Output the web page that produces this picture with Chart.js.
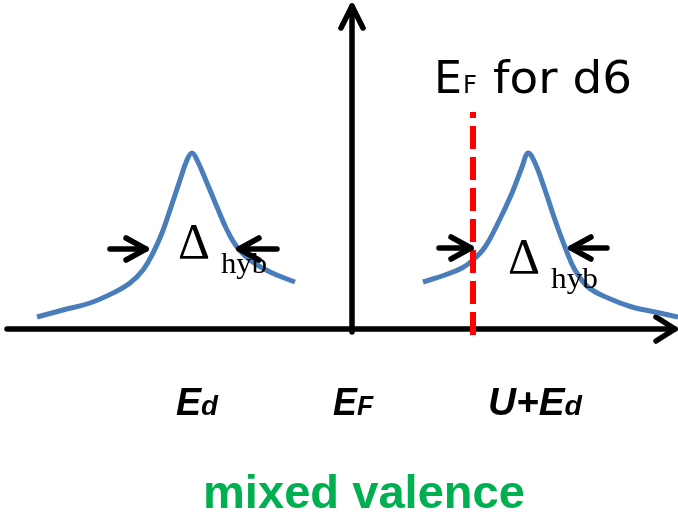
<!DOCTYPE html>
<html>
<head>
<meta charset="utf-8">
<script src="https://cdn.jsdelivr.net/npm/chart.js@4"></script>
<style>
  html, body { margin: 0; padding: 0; background: #fff; }
  #wrap { width: 678px; height: 515px; position: relative; }
</style>
</head>
<body>
<div id="wrap"><canvas id="dos"></canvas></div>
<script>
// energy (E_F = 0) on x, density of states on y, in sketch units
const lowerPeakE   = [-315, -289, -262, -239, -222, -209, -199, -190, -182, -172, -165, -160, -155, -145, -135, -125, -115, -102, -82, -57];
const lowerPeakDos = [  12,   19,   26,   36,   46,   59,   76,   96,  119,  149,  169,  176,  169,  146,  122,   99,   82,   69,  57,  47];
const upperPeakE   = [71, 93, 110, 121, 133, 146, 160, 170, 176, 183, 193, 203, 213, 223, 236, 256, 280, 303, 326];
const upperPeakDos = [47, 54,  61,  69,  82, 106, 136, 162, 176, 166, 139, 109,  82,  59,  42,  31,  22,  17,  12];
const fermiD6E   = [121, 121];
const fermiD6Dos = [-6, 217];
const levelNames = [['E', 'd'], ['E', 'F'], ['U+E', 'd']];
const levelE = [-155, 1, 183];

const toPoints = (xs, ys) => xs.map((x, i) => ({ x: x, y: ys[i] }));

// draw a run of [text, font] pieces, squeezed/stretched to a given width
function drawRun(ctx, pieces, left, baseline, width) {
    let natural = 0;
    pieces.forEach(p => { ctx.font = p[1]; natural += ctx.measureText(p[0]).width; });
    const k = width ? width / natural : 1;
    ctx.save();
    ctx.translate(left, baseline);
    ctx.scale(k, 1);
    let cx = 0;
    pieces.forEach(p => {
        ctx.font = p[1];
        ctx.fillText(p[0], cx, 0);
        cx += ctx.measureText(p[0]).width;
    });
    ctx.restore();
}

function chevron(ctx, tipX, tipY, dx, dy, back, half) {
    // dx,dy = unit direction the arrow points to
    const bx = tipX - dx * back, by = tipY - dy * back;
    ctx.beginPath();
    ctx.moveTo(bx - dy * half, by + dx * half);
    ctx.lineTo(tipX, tipY);
    ctx.lineTo(bx + dy * half, by - dx * half);
    ctx.stroke();
}

const sketchPlugin = {
    id: 'sketch',
    beforeDatasetsDraw(chart) {
        const { ctx, scales: { x, y } } = chart;
        const px = v => x.getPixelForValue(v);
        const py = v => y.getPixelForValue(v);
        ctx.save();
        ctx.strokeStyle = '#000';
        ctx.lineWidth = 5.5;
        ctx.lineCap = 'round';
        ctx.lineJoin = 'round';
        // energy axis
        ctx.beginPath();
        ctx.moveTo(px(-345), py(0));
        ctx.lineTo(px(323), py(0));
        ctx.stroke();
        chevron(ctx, px(323), py(0), 1, 0, 19, 12);
        // DOS axis
        ctx.beginPath();
        ctx.moveTo(px(0), py(-3));
        ctx.lineTo(px(0), py(323));
        ctx.stroke();
        chevron(ctx, px(0), py(323), 0, -1, 22, 11);
        ctx.restore();
    },
    afterDatasetsDraw(chart) {
        const { ctx, scales: { x, y } } = chart;
        const px = v => x.getPixelForValue(v);
        const py = v => y.getPixelForValue(v);
        ctx.save();
        ctx.fillStyle = '#000';
        ctx.textBaseline = 'alphabetic';

        // width arrows
        ctx.strokeStyle = '#000';
        ctx.lineWidth = 5.5;
        ctx.lineCap = 'round';
        ctx.lineJoin = 'round';
        [[-242, -206, 80], [-75, -113, 80], [87, 119, 81], [255, 219, 81]].forEach(a => {
            ctx.beginPath();
            ctx.moveTo(px(a[0]), py(a[2]));
            ctx.lineTo(px(a[1]), py(a[2]));
            ctx.stroke();
            chevron(ctx, px(a[1]), py(a[2]), a[1] > a[0] ? 1 : -1, 0, 20, 11);
        });

        // Δ hyb
        const serifBig = '50px "Liberation Serif"';
        const serifSmall = '30px "Liberation Serif"';
        drawRun(ctx, [['Δ', serifBig]], px(-174), py(71), 32);
        drawRun(ctx, [['hyb', serifSmall]], px(-131), py(56), 46);
        drawRun(ctx, [['Δ', serifBig]], px(156), py(56), 32);
        drawRun(ctx, [['hyb', serifSmall]], px(199), py(41), 47);

        // E_F for d6
        const hand = '"DejaVu Sans"';
        drawRun(ctx, [['E', '44px ' + hand]], px(82), py(236), 28);
        drawRun(ctx, [['F', '25px ' + hand]], px(111), py(236), 14);
        drawRun(ctx, [['for d6', '44px ' + hand]], px(141), py(236), 139);

        // level labels
        const big = 'italic bold 38px "Liberation Sans"';
        const small = 'italic bold 28px "Liberation Sans"';
        const widths = [42, 40, 94];
        levelNames.forEach((n, i) => {
            drawRun(ctx, [[n[0], big], [n[1], small]], px(levelE[i]) - widths[i] / 2, py(-86), widths[i]);
        });

        // caption
        ctx.fillStyle = '#00b050';
        drawRun(ctx, [['mixed valence', 'bold 46px "Liberation Sans"']], px(-149), py(-179), 322);
        ctx.restore();
    }
};

new Chart(document.getElementById('dos'), {
    type: 'scatter',
    data: {
        datasets: [
            {
                label: 'E_F for d6',
                data: toPoints(fermiD6E, fermiD6Dos),
                showLine: true,
                borderColor: '#ff0000',
                borderWidth: 6,
                borderDash: [23, 8],
                borderCapStyle: 'butt',
                pointRadius: 0
            },
            {
                label: 'E_d',
                data: toPoints(lowerPeakE, lowerPeakDos),
                showLine: true,
                borderColor: '#4a7ebb',
                borderWidth: 5,
                tension: 0.4,
                borderCapStyle: 'butt',
                borderJoinStyle: 'round',
                pointRadius: 0
            },
            {
                label: 'U+E_d',
                data: toPoints(upperPeakE, upperPeakDos),
                showLine: true,
                borderColor: '#4a7ebb',
                borderWidth: 5,
                tension: 0.4,
                borderCapStyle: 'butt',
                borderJoinStyle: 'round',
                pointRadius: 0
            }
        ]
    },
    options: {
        responsive: true,
        maintainAspectRatio: false,
        animation: false,
        layout: { padding: 0 },
        plugins: {
            legend: { display: false },
            tooltip: { enabled: false }
        },
        scales: {
            x: { type: 'linear', min: -352, max: 326, display: false },
            y: { type: 'linear', min: -186, max: 329, display: false }
        }
    },
    plugins: [sketchPlugin]
});
</script>
</body>
</html>
